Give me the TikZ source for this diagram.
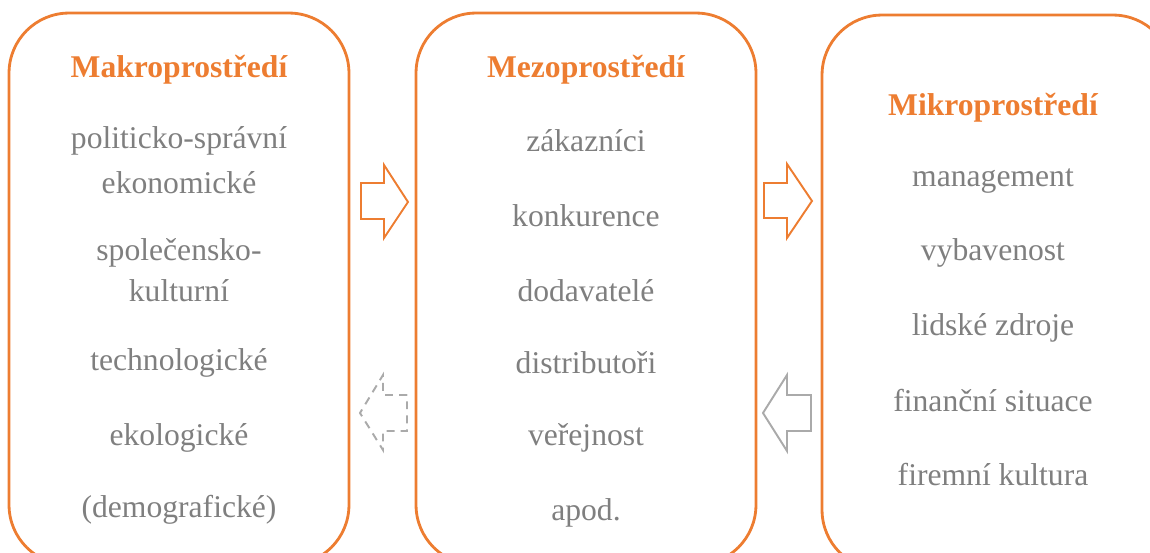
\documentclass[tikz,border=0pt]{standalone}
\usepackage{fontspec}
\setmainfont{Liberation Serif}
\usetikzlibrary{positioning}

\definecolor{envorange}{RGB}{237,125,49}
\definecolor{envtext}{RGB}{127,127,127}
\definecolor{envgray}{RGB}{170,170,170}

\tikzset{
  panel/.style={draw=envorange, line width=1.6pt, rounded corners=1.2cm, inner sep=0pt},
  heading/.style={text=envorange, font=\fontsize{18}{22}\selectfont\bfseries},
  item/.style={text=envtext, font=\fontsize{18}{22}\selectfont},
  blockarrow/.style={line width=1.1pt, line join=miter},
}

\begin{document}
\begin{tikzpicture}[x=0.02cm, y=-0.02cm]
  \useasboundingbox (0,0) rectangle (1150,553);
  \clip (0,0) rectangle (1150,553);

  % the three environment panels
  \node (makro) at (179,289) [panel, minimum width=6.8cm, minimum height=11.04cm] {};
  \node (mezo) at (586,289) [panel, minimum width=6.8cm, minimum height=11.04cm] {};
  \node (mikro) at (997.5,292.5) [panel, minimum width=7.02cm, minimum height=11.1cm] {};

  % headings
  \node (makro-title) at (179,70) [heading] {Makroprostředí};
  \node (mezo-title) at (586,70) [heading] {Mezoprostředí};
  \node (mikro-title) at (993,108) [heading] {Mikroprostředí};

  % factors of each environment
  \foreach \y/\t [count=\i] in {141/politicko-správní, 183/ekonomické,
      253/společensko-, 291/kulturní, 363/technologické, 438/ekologické,
      510/(demografické)}
    \node (makro-\i) at (179,\y) [item] {\t};
  \foreach \y/\t [count=\i] in {141/zákazníci, 216/konkurence, 291/dodavatelé,
      363/distributoři, 438/veřejnost, 513/apod.}
    \node (mezo-\i) at (586,\y) [item] {\t};
  \foreach \y/\t [count=\i] in {181/management, 253/vybavenost,
      328/lidské zdroje, 401/finanční situace, 475/firemní kultura}
    \node (mikro-\i) at (993,\y) [item] {\t};

  % block arrows between the panels
  \draw [blockarrow, draw=envorange]
    (361,183) -- (384,183) -- (384,165) -- (408,202) -- (384,238)
    -- (384,219) -- (361,219) -- cycle;
  \draw [blockarrow, draw=envorange]
    (764,183) -- (787,183) -- (787,164) -- (812,201) -- (787,238)
    -- (787,218) -- (764,218) -- cycle;
  \draw [blockarrow, draw=envgray]
    (811,395) -- (787,395) -- (787,375) -- (763,413) -- (787,451)
    -- (787,431) -- (811,431) -- cycle;
  \draw [blockarrow, draw=envgray, dash pattern=on 4.5pt off 3.5pt]
    (407,395) -- (383,395) -- (383,375) -- (360,413) -- (383,450)
    -- (383,431) -- (407,431) -- cycle;
\end{tikzpicture}
\end{document}
